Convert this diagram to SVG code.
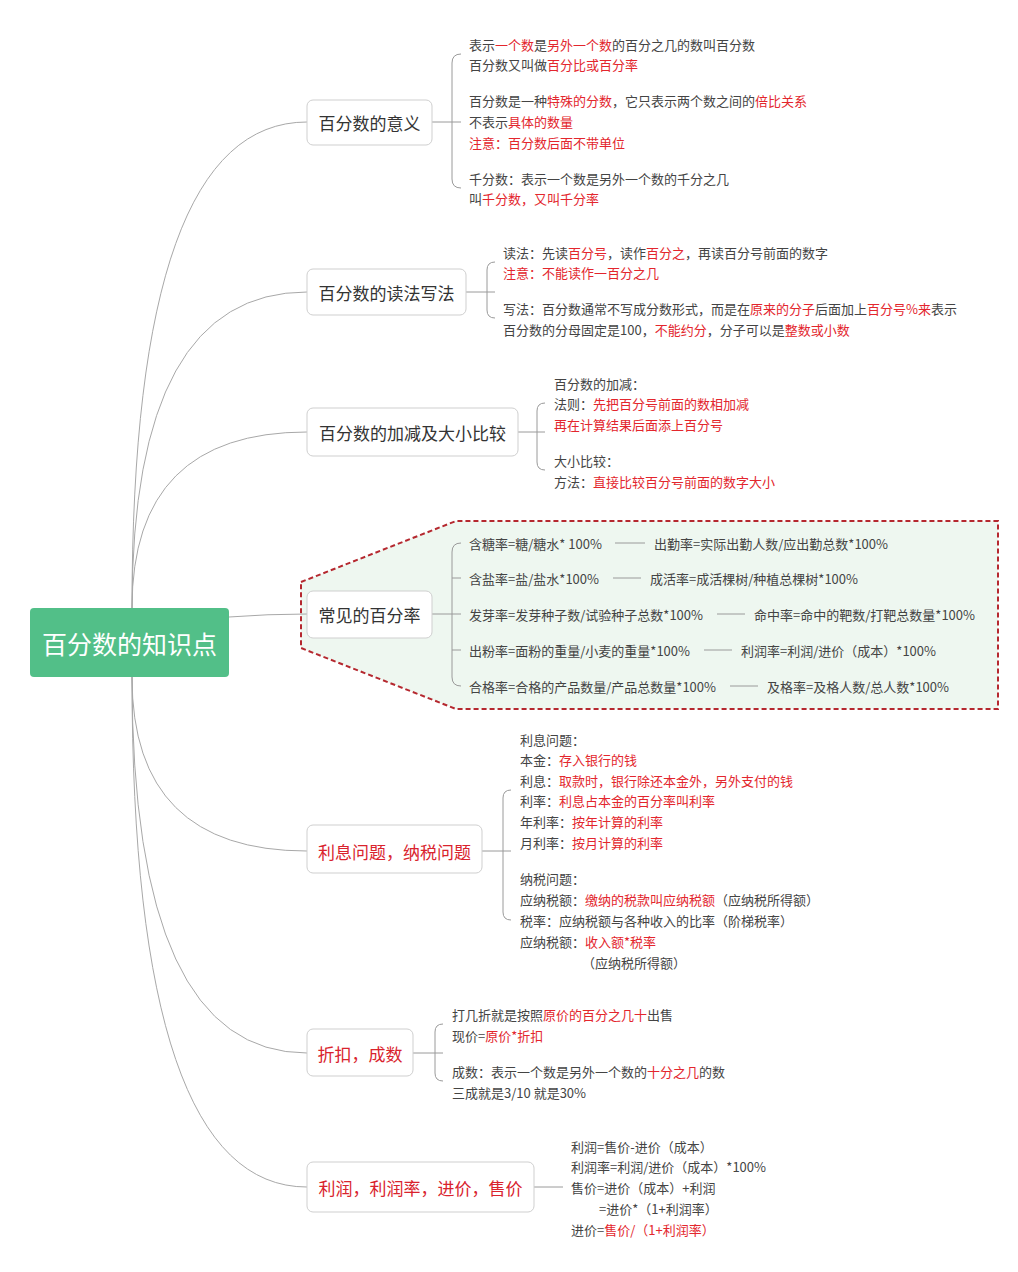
<svg xmlns="http://www.w3.org/2000/svg" width="1018" height="1272" viewBox="0 0 1018 1272">
<style>
text{font-family:"Noto Sans CJK SC","Noto Sans",sans-serif;dominant-baseline:central}
.t{font-size:13px;fill:#444}
.r{fill:#e3262d}
.nb{fill:#fff;stroke:#cfcfcf;stroke-width:1}
.nt{font-size:17px;fill:#333;text-anchor:middle}
.nr{fill:#d9232d}
.c{fill:none;stroke:#a8a8a8;stroke-width:1}
.b{fill:none;stroke:#9a9a9a;stroke-width:1}
</style>
<rect width="1018" height="1272" fill="#fff"/>
<polygon points="301,582 456,521 998,521 998,709 456,709 301,648" fill="#eef7f0" stroke="#b5282f" stroke-width="2" stroke-dasharray="5,3"/>
<g id="connectors">
<path class="c" d="M132,608 Q132,122 307,122"/>
<path class="c" d="M132,608 Q132,292 307,292"/>
<path class="c" d="M132,608 Q132,432 307,432"/>
<path class="c" d="M229,617 Q268,614 307,614"/>
<path class="c" d="M132,677 Q132,851 307,851"/>
<path class="c" d="M132,677 Q132,1053 307,1053"/>
<path class="c" d="M132,677 Q132,1187 307,1187"/>
<path class="b" d="M432,122 H461 M461,54 Q452,54 452,63 V179 Q452,188 461,188"/>
<path class="b" d="M466,292 H495 M495,262 Q487,262 487,270 V310 Q487,318 495,318"/>
<path class="b" d="M518,432 H545 M545,403 Q537,403 537,411 V462 Q537,470 545,470"/>
<path class="b" d="M432,614 H461 M461,543 Q452,543 452,552 V677 Q452,686 461,686 M452,578 H461 M452,650 H461"/>
<path class="b" d="M482,851 H511 M511,790 Q503,790 503,798 V912 Q503,920 511,920"/>
<path class="b" d="M413,1053 H443 M443,1024 Q435,1024 435,1032 V1073 Q435,1081 443,1081"/>
<path class="b" d="M534,1187 H563"/>
<path class="b" d="M615,543 H645 M613,578 H641 M717,614 H745 M704,650 H732 M730,686 H758"/>
</g>
<g id="root">
<rect x="30" y="608" width="199" height="69" rx="4" fill="#52bf88"/>
<text x="129.5" y="643" font-size="25" fill="#fff" text-anchor="middle">百分数的知识点</text>
</g>
<g id="n1">
<rect class="nb" x="307" y="100" width="125" height="45" rx="6"/>
<text class="nt" x="369.5" y="122.5">百分数的意义</text>
<text class="t" x="469" y="44">表示<tspan class="r">一个数</tspan>是<tspan class="r">另外一个数</tspan>的百分之几的数叫百分数</text>
<text class="t" x="469" y="64">百分数又叫做<tspan class="r">百分比或百分率</tspan></text>
<text class="t" x="469" y="100">百分数是一种<tspan class="r">特殊的分数</tspan>，它只表示两个数之间的<tspan class="r">倍比关系</tspan></text>
<text class="t" x="469" y="121">不表示<tspan class="r">具体的数量</tspan></text>
<text class="t r" x="469" y="142">注意：百分数后面不带单位</text>
<text class="t" x="469" y="178">千分数：表示一个数是另外一个数的千分之几</text>
<text class="t" x="469" y="198">叫<tspan class="r">千分数，又叫千分率</tspan></text>
</g>
<g id="n2">
<rect class="nb" x="307" y="269" width="159" height="46" rx="6"/>
<text class="nt" x="386.5" y="292">百分数的读法写法</text>
<text class="t" x="503" y="252">读法：先读<tspan class="r">百分号</tspan>，读作<tspan class="r">百分之</tspan>，再读百分号前面的数字</text>
<text class="t r" x="503" y="272">注意：不能读作一百分之几</text>
<text class="t" x="503" y="308">写法：百分数通常不写成分数形式，而是在<tspan class="r">原来的分子</tspan>后面加上<tspan class="r">百分号%来</tspan>表示</text>
<text class="t" x="503" y="329">百分数的分母固定是100，<tspan class="r">不能约分</tspan>，分子可以是<tspan class="r">整数或小数</tspan></text>
</g>
<g id="n3">
<rect class="nb" x="307" y="408" width="211" height="48" rx="6"/>
<text class="nt" x="412.5" y="432">百分数的加减及大小比较</text>
<text class="t" x="554" y="383">百分数的加减：</text>
<text class="t" x="554" y="403">法则：<tspan class="r">先把百分号前面的数相加减</tspan></text>
<text class="t r" x="554" y="424">再在计算结果后面添上百分号</text>
<text class="t" x="554" y="460">大小比较：</text>
<text class="t" x="554" y="481">方法：<tspan class="r">直接比较百分号前面的数字大小</tspan></text>
</g>
<g id="n4">
<rect class="nb" x="307" y="591" width="125" height="47" rx="6"/>
<text class="nt" x="369.5" y="614.5">常见的百分率</text>
<text class="t" x="469" y="543">含糖率=糖/糖水* 100%</text>
<text class="t" x="654" y="543">出勤率=实际出勤人数/应出勤总数*100%</text>
<text class="t" x="469" y="578">含盐率=盐/盐水*100%</text>
<text class="t" x="650" y="578">成活率=成活棵树/种植总棵树*100%</text>
<text class="t" x="469" y="614">发芽率=发芽种子数/试验种子总数*100%</text>
<text class="t" x="754" y="614">命中率=命中的靶数/打靶总数量*100%</text>
<text class="t" x="469" y="650">出粉率=面粉的重量/小麦的重量*100%</text>
<text class="t" x="741" y="650">利润率=利润/进价（成本）*100%</text>
<text class="t" x="469" y="686">合格率=合格的产品数量/产品总数量*100%</text>
<text class="t" x="767" y="686">及格率=及格人数/总人数*100%</text>
</g>
<g id="n5">
<rect class="nb" x="307" y="825" width="175" height="48" rx="6"/>
<text class="nt nr" x="394.5" y="851">利息问题，纳税问题</text>
<text class="t" x="520" y="739">利息问题：</text>
<text class="t" x="520" y="759">本金：<tspan class="r">存入银行的钱</tspan></text>
<text class="t" x="520" y="780">利息：<tspan class="r">取款时，银行除还本金外，另外支付的钱</tspan></text>
<text class="t" x="520" y="800">利率：<tspan class="r">利息占本金的百分率叫利率</tspan></text>
<text class="t" x="520" y="821">年利率：<tspan class="r">按年计算的利率</tspan></text>
<text class="t" x="520" y="842">月利率：<tspan class="r">按月计算的利率</tspan></text>
<text class="t" x="520" y="878">纳税问题：</text>
<text class="t" x="520" y="899">应纳税额：<tspan class="r">缴纳的税款叫应纳税额</tspan>（应纳税所得额）</text>
<text class="t" x="520" y="920">税率：应纳税额与各种收入的比率（阶梯税率）</text>
<text class="t" x="520" y="941">应纳税额：<tspan class="r">收入额*税率</tspan></text>
<text class="t" x="582" y="962">（应纳税所得额）</text>
</g>
<g id="n6">
<rect class="nb" x="307" y="1029" width="106" height="47" rx="6"/>
<text class="nt nr" x="360" y="1053">折扣，成数</text>
<text class="t" x="452" y="1014">打几折就是按照<tspan class="r">原价的百分之几十</tspan>出售</text>
<text class="t" x="452" y="1035">现价=<tspan class="r">原价*折扣</tspan></text>
<text class="t" x="452" y="1071">成数：表示一个数是另外一个数的<tspan class="r">十分之几</tspan>的数</text>
<text class="t" x="452" y="1092">三成就是3/10 就是30%</text>
</g>
<g id="n7">
<rect class="nb" x="307" y="1162" width="227" height="50" rx="6"/>
<text class="nt nr" x="420.5" y="1187">利润，利润率，进价，售价</text>
<text class="t" x="571" y="1146">利润=售价-进价（成本）</text>
<text class="t" x="571" y="1166">利润率=利润/进价（成本）*100%</text>
<text class="t" x="571" y="1187">售价=进价（成本）+利润</text>
<text class="t" x="599" y="1208">=进价*（1+利润率）</text>
<text class="t" x="571" y="1229">进价=<tspan class="r">售价/（1+利润率）</tspan></text>
</g>
</svg>
